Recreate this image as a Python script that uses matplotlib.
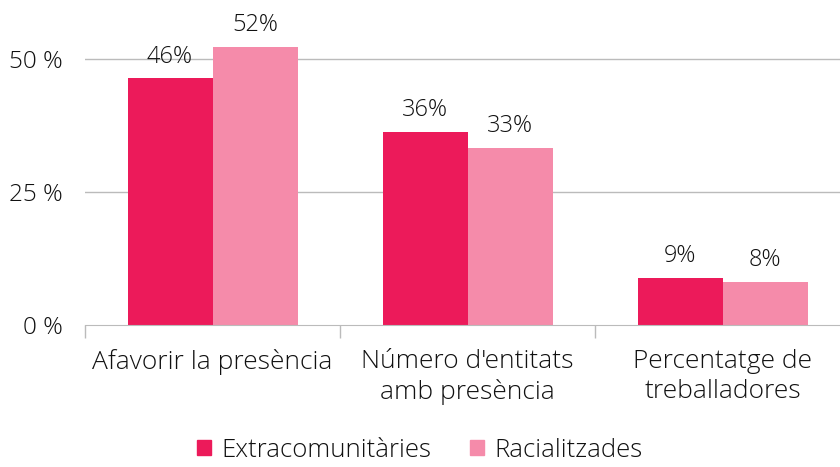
import numpy as np
import matplotlib
matplotlib.use("Agg")
import matplotlib.pyplot as plt
from matplotlib.patches import Patch

plt.rcParams['font.family'] = ['Open Sans', 'DejaVu Sans']
plt.rcParams['font.weight'] = 'light'

# data
categories = ["Afavorir la presència", "Número d'entitats\namb presència", "Percentatge de\ntreballadores"]
extracomunitaries = [46.4, 36.3, 8.8]
racialitzades = [52.3, 33.3, 8.1]
series_names = ["Extracomunitàries", "Racialitzades"]
y_ticks = [0, 25, 50]
y_tick_labels = ["0 %", "25 %", "50 %"]

dark_pink = "#EC1A5A"
light_pink = "#F58BAA"
text_col = "#111111"
grid_col = "#BBBBBB"

fig = plt.figure(figsize=(8.4, 4.67), dpi=100)
ax = fig.add_axes([85 / 840, 142 / 467, 765 / 840, 319 / 467])

x = np.arange(len(categories))
w = 1 / 3
b1 = ax.bar(x - w / 2, extracomunitaries, w, color=dark_pink, zorder=2)
b2 = ax.bar(x + w / 2, racialitzades, w, color=light_pink, zorder=2)

for bars, vals in [(b1, extracomunitaries), (b2, racialitzades)]:
    for rect, v in zip(bars, vals):
        ax.annotate(f"{round(v)}%", (rect.get_x() + rect.get_width() / 2, v),
                    xytext=(0, 7), textcoords="offset points",
                    ha="center", va="bottom", fontsize=17, color=text_col)

ax.set_xlim(-0.5, len(categories) - 0.5)
ax.set_ylim(0, 60)
ax.set_yticks(y_ticks)
ax.set_yticklabels(y_tick_labels, fontsize=17.5, color=text_col)
ax.tick_params(axis="y", length=0, pad=16)
for t in y_ticks[1:]:
    ax.axhline(t, color=grid_col, lw=1, zorder=1)

ax.set_xticks(x)
ax.set_xticklabels(categories, fontsize=19, color=text_col, linespacing=1.3)
ax.set_xticks(np.arange(len(categories) + 1) - 0.5, minor=True)
ax.tick_params(axis="x", which="major", length=0, pad=17)
ax.tick_params(axis="x", which="minor", length=9, color=grid_col, width=1)

for s in ["top", "right", "left"]:
    ax.spines[s].set_visible(False)
ax.spines["bottom"].set_color(grid_col)

handles = [Patch(color=dark_pink), Patch(color=light_pink)]
fig.legend(handles, series_names, loc="lower center", bbox_to_anchor=(0.5, -0.04),
           ncol=2, frameon=False, fontsize=18.5, handlelength=0.55, handleheight=0.55,
           handletextpad=0.4, columnspacing=1.5, labelcolor=text_col)

fig.savefig("out.png", dpi=100)
